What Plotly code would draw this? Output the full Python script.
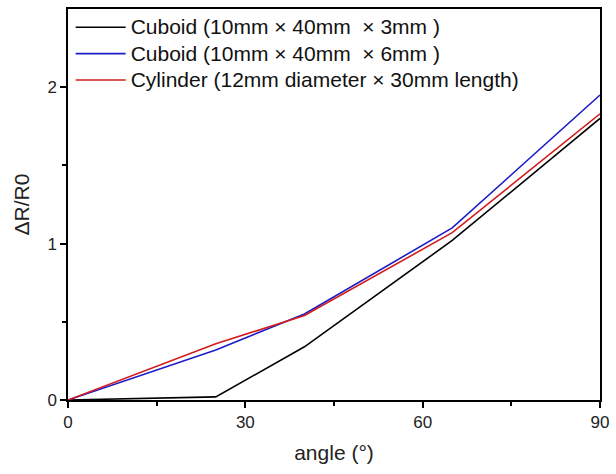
import plotly.graph_objects as go

angle = [0, 25, 40, 65, 90]
cuboid_3mm = [0, 0.02, 0.34, 1.02, 1.80]
cuboid_6mm = [0, 0.32, 0.55, 1.10, 1.95]
cylinder = [0, 0.36, 0.54, 1.07, 1.83]

names = [
    "Cuboid (10mm × 40mm \u00a0× 3mm )",
    "Cuboid (10mm × 40mm \u00a0× 6mm )",
    "Cylinder (12mm diameter × 30mm length)",
]
colors = ["#000000", "#1c1cc8", "#d21c1c"]

FONT = "Liberation Sans, Arial"

fig = go.Figure()
for y, n, c in zip([cuboid_3mm, cuboid_6mm, cylinder], names, colors):
    fig.add_trace(go.Scatter(x=angle, y=y, mode="lines",
                             name='<span style="font-size:21px">' + n + '</span>',
                             line=dict(color=c, width=1.6)))

axis_common = dict(
    showline=True, linecolor="black", linewidth=1.5, mirror=True,
    ticks="outside", ticklen=6, tickwidth=1.5, tickcolor="black",
    showgrid=False, zeroline=False,
    tickfont=dict(family=FONT, size=17, color="#222"),
)
fig.update_xaxes(range=[0, 90], tickvals=[0, 30, 60, 90],
                 minor=dict(tickvals=[15, 45, 75], ticks="outside", ticklen=4,
                            tickwidth=1.5, tickcolor="black"),
                 title=dict(text="angle (°)", font=dict(family=FONT, size=21, color="#222"), standoff=14),
                 **axis_common)
fig.update_yaxes(range=[0, 2.5], tickvals=[0, 1, 2],
                 minor=dict(tickvals=[0.5, 1.5], ticks="outside", ticklen=4,
                            tickwidth=1.5, tickcolor="black"),
                 title=dict(text="ΔR/R0", font=dict(family=FONT, size=21, color="#222"), standoff=12),
                 **axis_common)

fig.update_layout(
    width=616, height=474,
    margin=dict(l=68, r=13, t=7, b=74),
    plot_bgcolor="white", paper_bgcolor="white",
    legend=dict(x=0.005, y=1.0, xanchor="left", yanchor="top",
                bgcolor="rgba(0,0,0,0)", tracegroupgap=0, itemwidth=50,
                font=dict(family=FONT, size=18, color="#111")),
)

fig.write_html("out.html")
